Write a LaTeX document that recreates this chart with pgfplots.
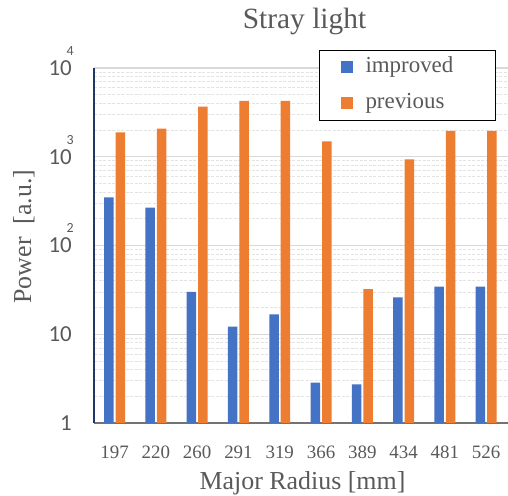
\documentclass[border=0pt]{standalone}
\usepackage{fontspec}
\setmainfont{Liberation Serif}
\newfontfamily\carlito{Carlito}
\usepackage{pgfplots}
\pgfplotsset{compat=1.18}
\definecolor{cblue}{HTML}{4472C4}
\definecolor{corange}{HTML}{ED7D31}
\definecolor{ctext}{HTML}{595959}
\definecolor{cgrid}{HTML}{D9D9D9}
\definecolor{cgridminor}{HTML}{E3E3E3}
\definecolor{caxis}{HTML}{203864}
\newcommand\pe[1]{10\llap{\smash{\raisebox{20bp}{\fontsize{14}{14}\selectfont #1}}\kern-2bp}}
\begin{document}
\begin{tikzpicture}
\path[use as bounding box] (0,0) rectangle (508bp,496bp);
\begin{axis}[
  at={(94bp,73bp)}, anchor=south west,
  scale only axis, width=414bp, height=355bp,
  xmin=-0.5, xmax=9.53,
  ymode=log, ymin=1, ymax=10000,
  axis lines=left, axis line style={-},
  x axis line style={draw=black!55, line width=1.2bp},
  y axis line style={draw=caxis, line width=1.2bp},
  xtick={0,...,9},
  xticklabels={197,220,260,291,319,366,389,434,481,526},
  ytick={1,10,100,1000,10000},
  yticklabels={1,10,\pe{2},\pe{3},\pe{4}},
  minor ytick={2,3,4,5,6,7,8,9,20,30,40,50,60,70,80,90,200,300,400,500,600,700,800,900,2000,3000,4000,5000,6000,7000,8000,9000},
  major tick length=0pt, minor tick length=0pt,
  ymajorgrids, yminorgrids,
  major grid style={cgrid, line width=1.2bp},
  minor grid style={cgridminor, line width=0.8bp, dash pattern=on 3bp off 1.5bp},
  yticklabel style={font=\carlito\fontsize{23}{23}\selectfont, text=ctext, inner sep=0pt, anchor=east, xshift=-22bp},
  xticklabel style={font=\fontsize{19}{19}\selectfont, text=ctext, inner sep=0pt, anchor=base, yshift=-35bp},
  title={Stray light},
  title style={at={(axis description cs:0.5085,1.093)}, anchor=base, font=\fontsize{29.5}{29.5}\selectfont, text=ctext, inner sep=0pt},
  xlabel={Major Radius [mm]},
  xlabel style={at={(axis description cs:0.5036,-0.186)}, anchor=base, font=\fontsize{26}{26}\selectfont, text=ctext, inner sep=0pt},
  ylabel={Power\ \ [a.u.]},
  ylabel style={at={(axis description cs:-0.152,0.525)}, anchor=base, font=\fontsize{26}{26}\selectfont, text=ctext, inner sep=0pt},
  bar width=0.23,
  legend style={at={(rel axis cs:0.5435,1.0507)}, anchor=north west, draw=black, line width=1bp,
    font=\fontsize{23}{23}\selectfont, text=ctext, inner xsep=21bp, inner ysep=6.5bp,
    nodes={inner sep=0pt, text height=16bp, text depth=5bp}, row sep=15bp,
    /tikz/every odd column/.append style={column sep=13bp}},
  legend cell align=left,
  legend image code/.code={\fill[#1, draw=none] (0bp,-6bp) rectangle (12bp,6bp);},
]
\addplot[ybar, bar shift=-0.139, fill=cblue, draw=none] coordinates {
  (0,349) (1,267) (2,30) (3,12.2) (4,16.8) (5,2.85) (6,2.73) (7,26) (8,34.3) (9,34.3)};
\addlegendentry{\makebox[109bp][l]{improved}}
\addplot[ybar, bar shift=0.139, fill=corange, draw=none] coordinates {
  (0,1876) (1,2080) (2,3680) (3,4250) (4,4250) (5,1490) (6,32.2) (7,933) (8,1955) (9,1955)};
\addlegendentry{previous}
\end{axis}
\end{tikzpicture}
\end{document}
